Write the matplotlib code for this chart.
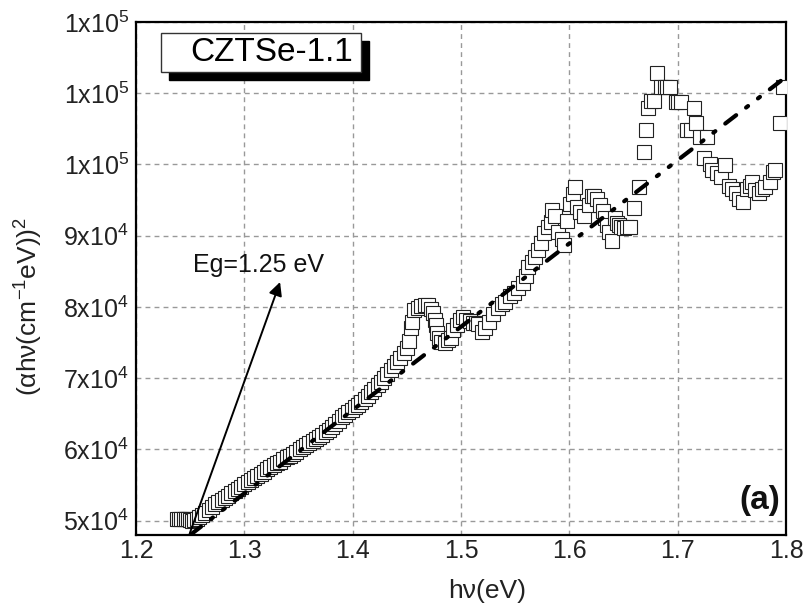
import matplotlib
matplotlib.use("Agg")
import matplotlib.pyplot as plt
from matplotlib.patches import Rectangle
import numpy as np

plt.rcParams['font.family'] = ['Liberation Sans', 'DejaVu Sans']
plt.rcParams['mathtext.default'] = 'regular'

# measured spectrum (hv in eV, (alpha hv)^2)
hv = [1.238, 1.240, 1.242, 1.244, 1.246, 1.248, 1.250, 1.252, 1.254, 1.256,
      1.258, 1.261, 1.264, 1.267, 1.270, 1.273, 1.276, 1.279, 1.282, 1.285,
      1.288, 1.291, 1.294, 1.297, 1.300, 1.303, 1.306, 1.309, 1.312, 1.315,
      1.318, 1.321, 1.324, 1.327, 1.330, 1.333, 1.336, 1.339, 1.342, 1.345,
      1.348, 1.351, 1.354, 1.357, 1.360, 1.363, 1.366, 1.369, 1.372, 1.375,
      1.378, 1.381, 1.384, 1.387, 1.390, 1.393, 1.396, 1.399, 1.402, 1.405,
      1.408, 1.411, 1.414, 1.417, 1.420, 1.423, 1.426, 1.429, 1.432, 1.435,
      1.438, 1.441, 1.444, 1.447, 1.450,
      1.452, 1.454, 1.455, 1.457, 1.460, 1.463, 1.467, 1.470, 1.472, 1.474,
      1.476, 1.477, 1.478, 1.480, 1.482, 1.485, 1.488, 1.491, 1.493, 1.496,
      1.499, 1.502, 1.505, 1.508, 1.511, 1.514, 1.516, 1.519, 1.522, 1.526,
      1.530, 1.534, 1.538, 1.541, 1.545, 1.549, 1.553, 1.557, 1.560, 1.562,
      1.566, 1.568, 1.571, 1.574, 1.577, 1.580, 1.583, 1.584, 1.587, 1.590,
      1.593, 1.595, 1.598, 1.601, 1.603, 1.605, 1.607, 1.610, 1.614, 1.618,
      1.621, 1.623, 1.626, 1.628, 1.631, 1.633, 1.635, 1.637, 1.639, 1.642,
      1.644, 1.646, 1.648, 1.650, 1.653, 1.656, 1.660, 1.664, 1.669, 1.671,
      1.673, 1.675, 1.678, 1.681, 1.685, 1.688, 1.690, 1.693, 1.698, 1.700,
      1.703, 1.709, 1.712, 1.715, 1.717, 1.721, 1.724, 1.727, 1.730, 1.732,
      1.736, 1.740, 1.744, 1.747, 1.750, 1.754, 1.757, 1.760, 1.764, 1.767,
      1.769, 1.771, 1.775, 1.778, 1.781, 1.785, 1.788, 1.790, 1.794, 1.797]
ahv2 = [50300, 50300, 50300, 50250, 50200, 50200, 50100, 50000, 50100, 50300,
        50500, 50800, 51100, 51500, 51900, 52300, 52600, 52900, 53200, 53500,
        53900, 54200, 54500, 54800, 55100, 55400, 55700, 56000, 56300, 56600,
        56900, 57200, 57500, 57800, 58100, 58300, 58600, 58900, 59100, 59400,
        59700, 60000, 60300, 60600, 60900, 61200, 61500, 61800, 62100, 62400,
        62800, 63200, 63600, 64000, 64500, 64800, 65200, 65600, 66000, 66300,
        66700, 67100, 67500, 68000, 68500, 69000, 69500, 70100, 70600, 71200,
        71700, 72300, 72900, 73600, 74300,
        75200, 77000, 77900, 79600, 79900, 80100, 80300, 80300, 79700, 79200,
        78200, 77500, 76400, 75600, 75100, 75000, 75300, 75600, 76800, 77500,
        78200, 78600, 78200, 78000, 77800, 77700, 77600, 76500, 77000, 77900,
        79000, 79900, 80400, 80700, 81500, 82000, 82600, 83400, 84400, 85600,
        86300, 87000, 88000, 89000, 90400, 91200, 91900, 93600, 92800, 90500,
        89500, 88700, 92000, 94500, 95800, 96800, 94000, 93300, 92800, 94300,
        95600, 95600, 95200, 94300, 93500, 92500, 91500, 90500, 89300, 92500,
        91800, 91500, 91200, 91100, 91200, 91200, 93900, 96800, 101800, 104800,
        107900, 108900, 108900, 112800, 110900, 110900, 110900, 110900, 108800, 108800,
        108800, 104800, 104800, 107900, 105800, 103900, 100900, 103900, 100000, 99200,
        98800, 98200, 99900, 97000, 96500, 96000, 95200, 94700, 96500, 97000,
        97500, 96400, 96000, 96600, 96800, 97500, 99000, 99200, 105800, 110900]

# linear fit used for the band gap
fit_x = [1.25, 1.80]
fit_y = [48000, 112300]

x_ticks = [1.2, 1.3, 1.4, 1.5, 1.6, 1.7, 1.8]
y_ticks = [50000, 60000, 70000, 80000, 90000, 100000, 110000, 120000]


def sci_label(v):
    e = int(np.floor(np.log10(v)))
    return f"{v / 10**e:.0f}x10$^{{{e}}}$"


fig = plt.figure(figsize=(8.06, 6.11), dpi=100)
ax = fig.add_axes([0.1687, 0.1244, 0.8065, 0.8396])

ax.plot(hv, ahv2, linestyle='none', marker='s', markersize=10.5,
        markerfacecolor='white', markeredgecolor='#222222', markeredgewidth=0.8,
        zorder=3)
ax.plot(fit_x, fit_y, color='black', lw=3, dashes=(3.3, 3.0, 0.6, 3.0, 0.6, 3.0),
        dash_capstyle='round', zorder=4)

ax.set_xlim(1.2, 1.8)
ax.set_ylim(48000, 120000)
ax.set_xticks(x_ticks)
ax.set_xticklabels([f"{t:.1f}" for t in x_ticks])
ax.set_yticks(y_ticks)
ax.set_yticklabels([sci_label(t) for t in y_ticks])
ax.tick_params(length=0, labelsize=18, pad=5, colors='#222222')
ax.tick_params(axis='x', pad=3)
ax.grid(True, color='#999999', lw=1, linestyle=(0, (3.5, 3)))
ax.set_axisbelow(True)
for sp in ax.spines.values():
    sp.set_linewidth(1.6)

ax.set_xlabel('hν(eV)', fontsize=19, color='#222222')
ax.xaxis.set_label_coords(0.54, -0.085)
ax.set_ylabel('(αhν(cm$^{-1}$eV))$^{2}$', fontsize=19, color='#222222')
ax.yaxis.set_label_coords(-0.14, 0.446)

# sample label box with shadow
ax.add_patch(Rectangle((0.0385 + 0.0123, 0.9025 - 0.0156), 0.3077, 0.0761,
                       transform=ax.transAxes, facecolor='black',
                       edgecolor='black', zorder=5, clip_on=False))
ax.add_patch(Rectangle((0.0385, 0.9025), 0.3077, 0.0761,
                       transform=ax.transAxes, facecolor='white',
                       edgecolor='#333333', lw=1, zorder=6, clip_on=False))
ax.text(0.083, 0.9405, 'CZTSe-1.1', transform=ax.transAxes, fontsize=24,
        ha='left', va='center', zorder=7)

ax.text(0.991, 0.068, '(a)', transform=ax.transAxes, fontsize=24,
        fontweight='bold', ha='right', va='center', color='#111111')

ax.annotate('', xy=(1.333, 83500), xytext=(1.2498, 48300),
            arrowprops=dict(arrowstyle='-|>', lw=1.4, color='black',
                            mutation_scale=20, shrinkA=0, shrinkB=0),
            zorder=5)
ax.text(1.2526, 84900, 'Eg=1.25 eV', fontsize=18, ha='left', va='baseline',
        color='#111111')

fig.savefig('out.png', dpi=100)
